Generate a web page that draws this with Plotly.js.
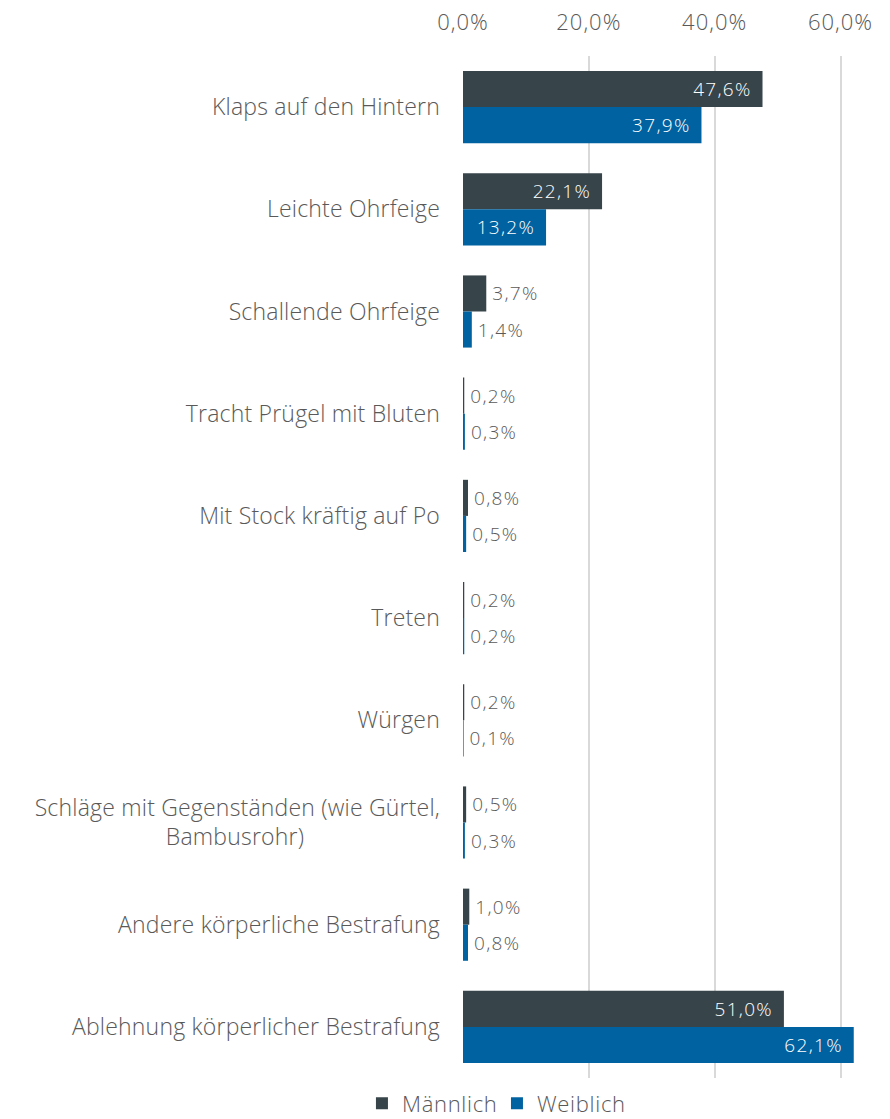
<!DOCTYPE html>
<html>
<head>
<meta charset="utf-8">
<script src="https://cdn.plot.ly/plotly-3.0.1.min.js"></script>
<style>
html,body{margin:0;padding:0;background:#fff;}
#chart{width:890px;height:1119px;}
#chart .ytick text{letter-spacing:0.2px;}
#chart .xtick text{letter-spacing:1px;}
#chart text.bartext{letter-spacing:1.3px;}
#chart text.legendtext{letter-spacing:0.7px;}
</style>
</head>
<body>
<div id="chart"></div>
<script>
const categories = [
  "Klaps auf den Hintern",
  "Leichte Ohrfeige",
  "Schallende Ohrfeige",
  "Tracht Prügel mit Bluten",
  "Mit Stock kräftig auf Po",
  "Treten",
  "Würgen",
  "Schläge mit Gegenständen (wie Gürtel,<br>Bambusrohr)" + "\u00a0".repeat(22),
  "Andere körperliche Bestrafung",
  "Ablehnung körperlicher Bestrafung"
];
const maennlich = [47.6, 22.1, 3.7, 0.2, 0.8, 0.2, 0.2, 0.5, 1.0, 51.0];
const weiblich  = [37.9, 13.2, 1.4, 0.3, 0.5, 0.2, 0.1, 0.3, 0.8, 62.1];
const xTicks = [0, 20, 40, 60];
const xTickLabels = ["0,0%", "20,0%", "40,0%", "60,0%"];

const fmt = v => v.toFixed(1).replace('.', ',') + '%';
const FONT = '"Open Sans", Lato, sans-serif';
const GRAY = '#595959';

function series(name, vals, color) {
  return {
    type: 'bar', orientation: 'h', name: name,
    y: categories, x: vals,
    marker: {color: color},
    text: vals.map(v => v > 10 ? fmt(v) + '\u00a0\u00a0' : '\u00a0' + fmt(v)),
    textposition: vals.map(v => v > 10 ? 'inside' : 'outside'),
    insidetextanchor: 'end',
    insidetextfont: {color: '#ffffff', size: 19, family: FONT, weight: 300},
    outsidetextfont: {color: GRAY, size: 19, family: FONT, weight: 300},
    textfont: {size: 19, family: FONT, weight: 300},
    constraintext: 'none',
    cliponaxis: false,
    hoverinfo: 'skip'
  };
}

const data = [
  series('Männlich', maennlich, '#37444a'),
  series('Weiblich', weiblich, '#0062a0')
];

const layout = {
  width: 890, height: 1119,
  margin: {l: 463, r: 18, t: 56, b: 41},
  paper_bgcolor: '#ffffff', plot_bgcolor: '#ffffff',
  font: {family: FONT, color: GRAY, size: 19, weight: 300},
  barmode: 'group', bargap: 0.294, bargroupgap: 0,
  showlegend: true,
  legend: {orientation: 'h', xref: 'container', yref: 'container', x: 0.555, xanchor: 'center', y: 0.014, yanchor: 'middle',
           font: {size: 22, color: GRAY, family: FONT, weight: 300}, itemwidth: 30, traceorder: 'normal'},
  xaxis: {
    side: 'top', range: [0, 65], tickvals: xTicks, ticktext: xTickLabels,
    showgrid: true, gridcolor: '#d9d9d9', gridwidth: 2, zeroline: false,
    showline: false, tickfont: {size: 22, color: GRAY, family: FONT, weight: 300},
    ticks: '', ticklabelstandoff: 21, fixedrange: true
  },
  yaxis: {
    autorange: 'reversed', type: 'category',
    showgrid: false, zeroline: false, showline: false,
    tickfont: {size: 23, color: GRAY, family: FONT, weight: 300},
    ticks: '', ticklabelstandoff: 22, fixedrange: true
  }
};

Plotly.newPlot('chart', data, layout, {displayModeBar: false, staticPlot: true});
</script>
</body>
</html>
